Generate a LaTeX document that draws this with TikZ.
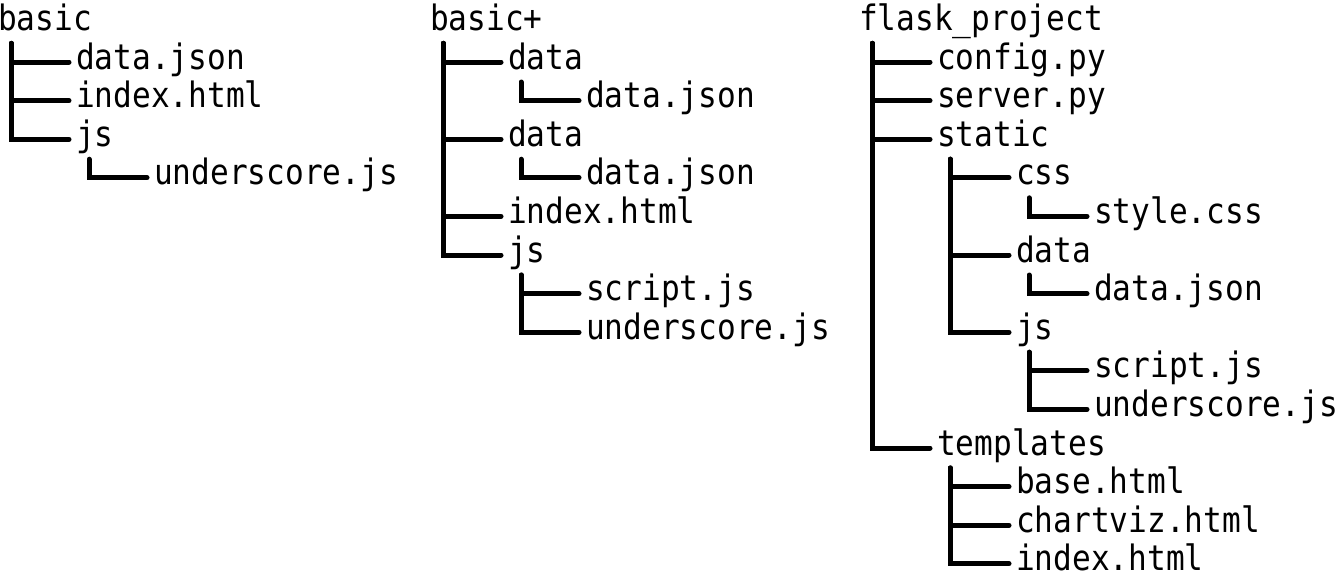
\documentclass[tikz,border=0pt]{standalone}
\usepackage{fontspec}
\newfontfamily\treefont[FakeStretch=0.89]{DejaVu Sans Mono}
\tikzset{
  item/.style={anchor=west, inner xsep=7pt, inner ysep=0pt,
    text height=26pt, text depth=12pt,
    font=\treefont\fontsize{35}{40}\selectfont},
  branch/.style={draw=black, line width=5pt, line cap=round, line join=miter}
}
\begin{document}
\begin{tikzpicture}[x=1pt,y=-1pt]
\useasboundingbox (0,0) rectangle (1340,584);
% ---------- column 1: basic ----------
\node[item] (b0) at (-9,23.4) {basic};
\node[item] (b1) at (69,62.0) {data.json};
\node[item] (b2) at (69,100.6) {index.html};
\node[item] (b3) at (69,139.2) {js};
\node[item] (b4) at (147,177.8) {underscore.js};
\foreach \c in {b1,b2,b3}
  \draw[branch] ([xshift=20pt,yshift=-20pt]b0.west) |- (\c.west);
\draw[branch] ([xshift=20pt,yshift=-20pt]b3.west) |- (b4.west);
% ---------- column 2: basic+ ----------
\node[item] (p0) at (423,23.4) {basic+};
\node[item] (p1) at (501,62.0) {data};
\node[item] (p2) at (579,100.6) {data.json};
\node[item] (p3) at (501,139.2) {data};
\node[item] (p4) at (579,177.8) {data.json};
\node[item] (p5) at (501,216.4) {index.html};
\node[item] (p6) at (501,255.0) {js};
\node[item] (p7) at (579,293.6) {script.js};
\node[item] (p8) at (579,332.2) {underscore.js};
\foreach \c in {p1,p3,p5,p6}
  \draw[branch] ([xshift=20pt,yshift=-20pt]p0.west) |- (\c.west);
\draw[branch] ([xshift=20pt,yshift=-20pt]p1.west) |- (p2.west);
\draw[branch] ([xshift=20pt,yshift=-20pt]p3.west) |- (p4.west);
\foreach \c in {p7,p8}
  \draw[branch] ([xshift=20pt,yshift=-20pt]p6.west) |- (\c.west);
% ---------- column 3: flask_project ----------
\node[item] (f0) at (852,23.4) {flask\textunderscore project};
\node[item] (f1) at (930,62.0) {config.py};
\node[item] (f2) at (930,100.6) {server.py};
\node[item] (f3) at (930,139.2) {static};
\node[item] (f4) at (1009,177.8) {css};
\node[item] (f5) at (1087,216.4) {style.css};
\node[item] (f6) at (1009,255.0) {data};
\node[item] (f7) at (1087,293.6) {data.json};
\node[item] (f8) at (1009,332.2) {js};
\node[item] (f9) at (1087,370.8) {script.js};
\node[item] (f10) at (1087,409.4) {underscore.js};
\node[item] (f11) at (930,448.0) {templates};
\node[item] (f12) at (1009,486.6) {base.html};
\node[item] (f13) at (1009,525.2) {chartviz.html};
\node[item] (f14) at (1009,563.8) {index.html};
\foreach \c in {f1,f2,f3,f11}
  \draw[branch] ([xshift=20pt,yshift=-20pt]f0.west) |- (\c.west);
\foreach \c in {f4,f6,f8}
  \draw[branch] ([xshift=20pt,yshift=-20pt]f3.west) |- (\c.west);
\draw[branch] ([xshift=20pt,yshift=-20pt]f4.west) |- (f5.west);
\draw[branch] ([xshift=20pt,yshift=-20pt]f6.west) |- (f7.west);
\foreach \c in {f9,f10}
  \draw[branch] ([xshift=20pt,yshift=-20pt]f8.west) |- (\c.west);
\foreach \c in {f12,f13,f14}
  \draw[branch] ([xshift=20pt,yshift=-20pt]f11.west) |- (\c.west);
\end{tikzpicture}
\end{document}
